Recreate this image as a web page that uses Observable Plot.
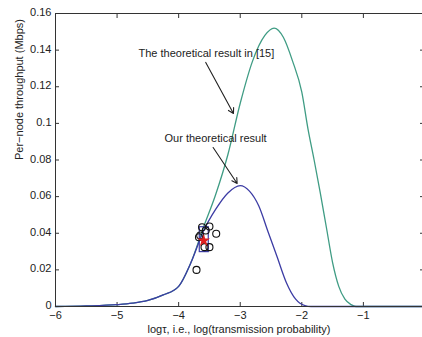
<!DOCTYPE html>
<html>
<head>
<meta charset="utf-8">
<script src="https://cdn.jsdelivr.net/npm/d3@7"></script>
<script src="https://cdn.jsdelivr.net/npm/@observablehq/plot@0.6"></script>
<style>
  html, body { margin: 0; padding: 0; background: #fff; }
  #chart svg { display: block; }
</style>
</head>
<body>
<div id="chart"></div>
<script>
// ---- data ----
const xTicks = [-6, -5, -4, -3, -2, -1];
const yTicks = [0, 0.02, 0.04, 0.06, 0.08, 0.1, 0.12, 0.14, 0.16];
const xLabel = "logτ, i.e., log(transmission probability)";
const yLabel = "Per−node throughput (Mbps)";

// theoretical result in [15] (green)
const logTau15 = [-6, -5.5, -5, -4.75, -4.5, -4.25, -4, -3.8, -3.6, -3.4, -3.2, -3.0, -2.8, -2.6, -2.45, -2.3, -2.15, -2.0, -1.9, -1.8, -1.7, -1.6, -1.5, -1.4, -1.3, -1.2, -1.12, -0.04];
const thr15    = [0, 0.0003, 0.001, 0.0018, 0.0033, 0.0063, 0.011, 0.024, 0.043, 0.061, 0.083, 0.111, 0.134, 0.148, 0.152, 0.147, 0.134, 0.117, 0.097, 0.08, 0.062, 0.043, 0.024, 0.011, 0.004, 0.001, 0, 0];

// our theoretical result (blue)
const logTauOurs = [-6, -5.5, -5, -4.75, -4.5, -4.25, -4, -3.8, -3.6, -3.4, -3.2, -3.0, -2.85, -2.7, -2.55, -2.4, -2.25, -2.1, -1.95, -1.85, -0.04];
const thrOurs    = [0, 0.0003, 0.001, 0.0018, 0.0033, 0.0063, 0.011, 0.024, 0.041, 0.053, 0.062, 0.066, 0.063, 0.055, 0.041, 0.027, 0.013, 0.004, 0.0005, 0, 0];

// simulation points (open circles)
const simX = [-3.62, -3.50, -3.39, -3.65, -3.67, -3.58, -3.50, -3.71, -3.56];
const simY = [0.0433, 0.0437, 0.0397, 0.0388, 0.0378, 0.0324, 0.0324, 0.0200, 0.0415];

// range box and mean marker
const boxX1 = [-3.657], boxX2 = [-3.511], boxY1 = [0.0297], boxY2 = [0.0433];
const meanX = [-3.593], meanY = [0.036];

// annotations
const noteText = ["The theoretical result in [15]", "Our theoretical result"];
const noteX = [-3.55, -3.40];
const noteY = [0.1384, 0.0918];
const arrowX1 = [-3.56, -3.44], arrowY1 = [0.1333, 0.0868];
const arrowX2 = [-3.11, -3.05], arrowY2 = [0.1054, 0.0672];

const toRows = (xs, ys) => xs.map((x, i) => ({x, y: ys[i]}));
const green = "#3f9c84";
const blue = "#3c3ca4";
const ink = "#222";

const chart = Plot.plot({
  width: 422,
  height: 337,
  marginLeft: 55,
  marginRight: 0,
  marginTop: 13,
  marginBottom: 31,
  style: {fontFamily: "'Liberation Sans', Arial, Helvetica, sans-serif", fontSize: "11px", color: ink, background: "#fff"},
  x: {domain: [-6, -0.04]},
  y: {domain: [0, 0.16]},
  marks: [
    // inward tick marks (box style)
    Plot.axisX(xTicks, {anchor: "top", tickSize: -4, tickFormat: () => "", label: null, stroke: "#333"}),
    Plot.axisX(xTicks, {anchor: "bottom", tickSize: -4, tickFormat: () => "", label: null, stroke: "#333"}),
    Plot.axisY(yTicks, {anchor: "left", tickSize: -4, tickFormat: () => "", label: null, stroke: "#333"}),
    Plot.axisY(yTicks, {anchor: "right", tickSize: -3, tickFormat: () => "", label: null, stroke: "#333"}),
    // tick labels
    Plot.text(xTicks, {x: d => d, frameAnchor: "bottom", dy: 12, text: d => d3.format("d")(d).replace("-", "−"), fill: ink}),
    Plot.text(yTicks, {y: d => d, frameAnchor: "left", textAnchor: "end", dx: -4, dy: -1, text: d => String(d), fill: ink}),
    // axis titles
    Plot.text([xLabel], {frameAnchor: "bottom", dy: 26, text: d => d, fill: ink}),
    Plot.text([yLabel], {frameAnchor: "left", dx: -36, rotate: -90, text: d => d, fill: ink}),
    // curves
    Plot.line(toRows(logTau15, thr15), {x: "x", y: "y", stroke: green, strokeWidth: 1.3, curve: "monotone-x"}),
    Plot.line(toRows(logTauOurs, thrOurs), {x: "x", y: "y", stroke: blue, strokeWidth: 1.3, curve: "monotone-x"}),
    // frame lines (left, bottom, top)
    Plot.ruleY([0.16], {stroke: "#333"}),
    Plot.ruleX([-6], {stroke: "#333"}),
    Plot.ruleY([0], {stroke: "#333"}),
    // simulation results
    Plot.rect(boxX1.map((x, i) => ({x1: x, x2: boxX2[i], y1: boxY1[i], y2: boxY2[i]})), {x1: "x1", x2: "x2", y1: "y1", y2: "y2", fill: "none", stroke: blue, strokeWidth: 1.2}),
    Plot.dot(toRows(simX, simY), {x: "x", y: "y", r: 3.5, stroke: "#111", strokeWidth: 1.1, fill: "none"}),
    Plot.dot(toRows(meanX, meanY), {x: "x", y: "y", r: 2.5, fill: "#e02020", stroke: "#e02020", symbol: "star"}),
    // annotations
    Plot.arrow(arrowX1.map((x, i) => ({x1: x, y1: arrowY1[i], x2: arrowX2[i], y2: arrowY2[i]})), {x1: "x1", y1: "y1", x2: "x2", y2: "y2", stroke: ink, strokeWidth: 1.1, headLength: 8}),
    Plot.text(noteText.map((t, i) => ({t, x: noteX[i], y: noteY[i]})), {x: "x", y: "y", text: "t", fill: ink, fontSize: 11})
  ]
});
document.getElementById("chart").appendChild(chart);
</script>
</body>
</html>
